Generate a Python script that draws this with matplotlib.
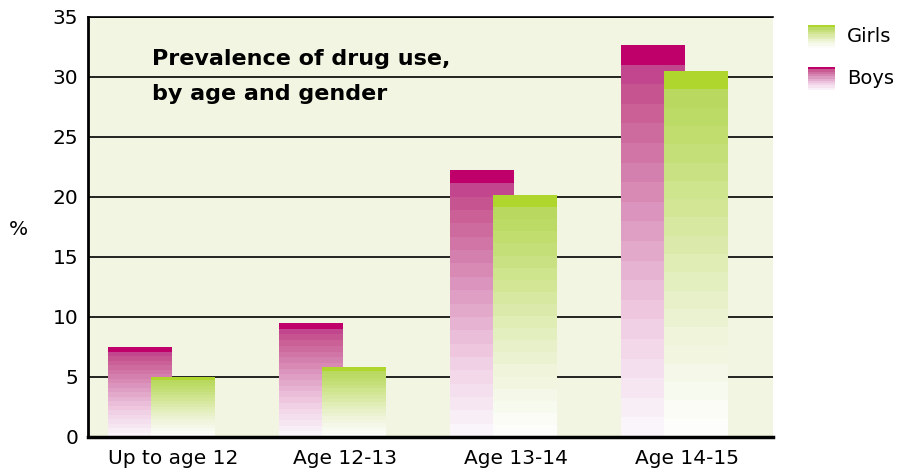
import numpy as np
import matplotlib
matplotlib.use("Agg")
import matplotlib.pyplot as plt
from matplotlib.colors import LinearSegmentedColormap, to_rgba

plt.rcParams['font.family'] = ['DejaVu Sans']

categories = ["Up to age 12", "Age 12-13", "Age 13-14", "Age 14-15"]
boys = [7.5, 9.5, 22.2, 32.6]
girls = [5.0, 5.8, 20.1, 30.5]

boys_cmap = LinearSegmentedColormap.from_list(
    "boys", [(0, '#FBF9FD'), (0.3, '#F0CDE3'), (0.6, '#DA90BA'), (0.85, '#C95C93'), (1, '#BD3288')])
girls_cmap = LinearSegmentedColormap.from_list(
    "girls", [(0, '#FFFFFF'), (0.3, '#EEF4D8'), (0.6, '#D6E89C'), (0.85, '#BEDC6A'), (1, '#B3D658')])
boys_top = '#C0006A'
girls_top = '#AFD62C'

W, H = 902, 472
fig = plt.figure(figsize=(W / 100, H / 100), dpi=100)
ax = fig.add_axes([88 / W, 35 / H, 685 / W, 420 / H])
ax.set_facecolor('#F2F5E1')

N = 20
bar_w = 0.368
offsets = {'boys': -0.385, 'girls': -0.134}


def grad_bar(x0, h, cmap, topc, top_frac, z):
    n = N
    vals = (np.arange(n) + 0.5) / n
    rgba = np.array([cmap(v) for v in vals])
    ntop = max(1, int(round(top_frac * n)))
    rgba[n - ntop:] = to_rgba(topc)
    img = rgba.reshape(n, 1, 4)
    ax.imshow(img, extent=(x0, x0 + bar_w, 0, h), origin='lower',
              aspect='auto', interpolation='nearest', zorder=z)


for i, (b, g) in enumerate(zip(boys, girls)):
    grad_bar(i + offsets['boys'], b, boys_cmap, boys_top, 0.05, 2)
    grad_bar(i + offsets['girls'], g, girls_cmap, girls_top, 0.07, 3)

ax.set_xlim(-0.5, 3.5)
ax.set_ylim(0, 35)
ax.set_yticks(np.arange(0, 36, 5))
ax.set_xticks(range(len(categories)))
ax.set_xticklabels(categories)
ax.tick_params(length=0, labelsize=14.5)
ax.tick_params(axis='y', pad=7)
ax.tick_params(axis='x', pad=9)
ax.yaxis.grid(True, color='black', linewidth=1.2)
ax.set_axisbelow(True)
ax.spines['right'].set_visible(False)
ax.spines['top'].set_linewidth(1.2)
ax.spines['left'].set_linewidth(2)
ax.spines['bottom'].set_linewidth(2.5)
for s in ax.spines.values():
    s.set_zorder(5)

ax.text(0.0934, 0.886, "Prevalence of drug use,", transform=ax.transAxes,
        fontsize=16, fontweight='bold', va='baseline', ha='left', zorder=6)
ax.text(0.0934, 0.802, "by age and gender", transform=ax.transAxes,
        fontsize=16, fontweight='bold', va='baseline', ha='left', zorder=6)

fig.text(18 / W, (H - 229) / H, "%", fontsize=14.5, ha='center', va='center')

# legend
for label, y0, cmap, topc in [("Girls", 25, girls_cmap, girls_top), ("Boys", 67, boys_cmap, boys_top)]:
    lax = fig.add_axes([808 / W, (H - y0 - 23) / H, 27 / W, 23 / H])
    n = 10
    vals = (np.arange(n) + 0.5) / n
    rgba = np.array([cmap(v) for v in vals])
    rgba[-1] = to_rgba(topc)
    lax.imshow(rgba.reshape(n, 1, 4), origin='lower', aspect='auto', interpolation='nearest',
               extent=(0, 1, 0, 1))
    lax.axis('off')
    fig.text(847 / W, (H - y0 - 11.5) / H, label, fontsize=14, ha='left', va='center')

fig.savefig("out.png", dpi=100)
